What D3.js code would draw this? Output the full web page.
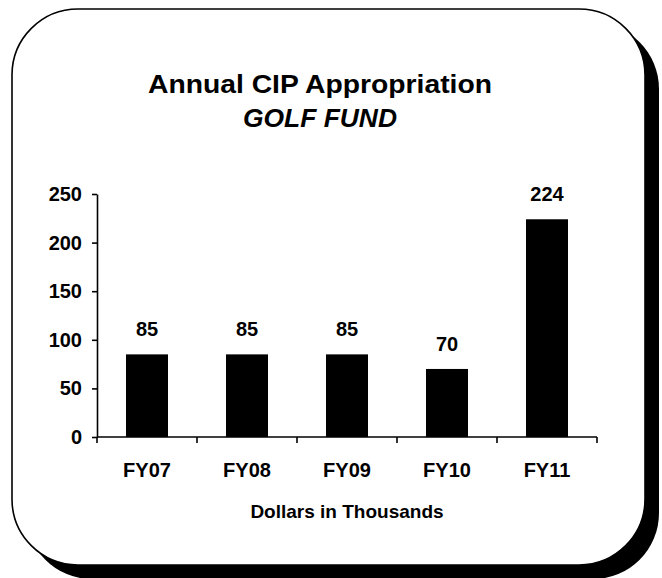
<!DOCTYPE html>
<html>
<head>
<meta charset="utf-8">
<script src="https://cdn.jsdelivr.net/npm/d3@7"></script>
<style>
  body { margin: 0; background: #fff; }
  text { font-family: "Liberation Sans", Arial, sans-serif; font-weight: bold; fill: #000; }
</style>
</head>
<body>
<svg id="chart"></svg>
<script>
const years = ["FY07", "FY08", "FY09", "FY10", "FY11"];
const amounts = [85, 85, 85, 70, 224];
const yTicks = [0, 50, 100, 150, 200, 250];

const W = 662, H = 578;
const margin = { top: 194, right: 65, bottom: 141, left: 97 };
const width = W - margin.left - margin.right;
const height = H - margin.top - margin.bottom;

const svg = d3.select("#chart").attr("width", W).attr("height", H);

// frame with drop shadow
svg.append("rect")
    .attr("x", 26).attr("y", 23)
    .attr("width", 633).attr("height", 556)
    .attr("rx", 66).attr("ry", 66)
    .attr("fill", "#000");
svg.append("rect")
    .attr("x", 12).attr("y", 9)
    .attr("width", 633).attr("height", 556)
    .attr("rx", 66).attr("ry", 66)
    .attr("fill", "#fff")
    .attr("stroke", "#000")
    .attr("stroke-width", 1.6);

// titles
svg.append("text")
    .attr("x", 320).attr("y", 93)
    .attr("text-anchor", "middle")
    .attr("font-size", "26px")
    .attr("textLength", 344)
    .attr("lengthAdjust", "spacingAndGlyphs")
    .text("Annual CIP Appropriation");
svg.append("text")
    .attr("x", 320).attr("y", 127)
    .attr("text-anchor", "middle")
    .attr("font-size", "26px")
    .attr("font-style", "italic")
    .attr("textLength", 154)
    .attr("lengthAdjust", "spacingAndGlyphs")
    .text("GOLF FUND");

const g = svg.append("g").attr("transform", `translate(${margin.left}, ${margin.top})`);

const x = d3.scaleBand().domain(years).range([0, width]).paddingInner(0.58).paddingOuter(0.29);
const y = d3.scaleLinear().domain([0, 250]).range([height, 0]);

// bars
g.selectAll("rect.bar")
    .data(years)
    .join("rect")
    .attr("class", "bar")
    .attr("x", d => x(d))
    .attr("y", (d, i) => y(amounts[i]))
    .attr("width", x.bandwidth())
    .attr("height", (d, i) => y(0) - y(amounts[i]))
    .attr("fill", "#000");

// value labels
g.selectAll("text.val")
    .data(years)
    .join("text")
    .attr("class", "val")
    .attr("x", d => x(d) + x.bandwidth() / 2)
    .attr("y", (d, i) => y(amounts[i]) - 18)
    .attr("text-anchor", "middle")
    .attr("font-size", "20px")
    .text((d, i) => amounts[i]);

// y axis
const yAxis = g.append("g")
    .call(d3.axisLeft(y).tickValues(yTicks).tickSize(5).tickSizeOuter(0).tickPadding(10));
yAxis.select(".domain").attr("stroke-width", 1.6);
yAxis.selectAll(".tick line").attr("stroke-width", 1.6);
yAxis.selectAll(".tick text")
    .attr("font-size", "20px")
    .attr("font-family", "Liberation Sans, Arial, sans-serif")
    .attr("font-weight", "bold")
    .attr("fill", "#000");

// x axis: ticks sit between categories
const step = x.step();
const bounds = d3.range(years.length + 1).map(i => i * step);
const xAxis = g.append("g").attr("transform", `translate(0, ${height})`);
xAxis.append("line")
    .attr("x1", 0).attr("x2", width)
    .attr("stroke", "#000").attr("stroke-width", 1.6);
xAxis.selectAll("line.tk")
    .data(bounds)
    .join("line")
    .attr("class", "tk")
    .attr("x1", d => d).attr("x2", d => d)
    .attr("y1", 0).attr("y2", 6)
    .attr("stroke", "#000").attr("stroke-width", 1.6);
xAxis.selectAll("text")
    .data(years)
    .join("text")
    .attr("x", d => x(d) + x.bandwidth() / 2)
    .attr("y", 40)
    .attr("text-anchor", "middle")
    .attr("font-size", "20px")
    .text(d => d);

// axis title
svg.append("text")
    .attr("x", margin.left + width / 2)
    .attr("y", 518)
    .attr("text-anchor", "middle")
    .attr("font-size", "19px")
    .text("Dollars in Thousands");
</script>
</body>
</html>
